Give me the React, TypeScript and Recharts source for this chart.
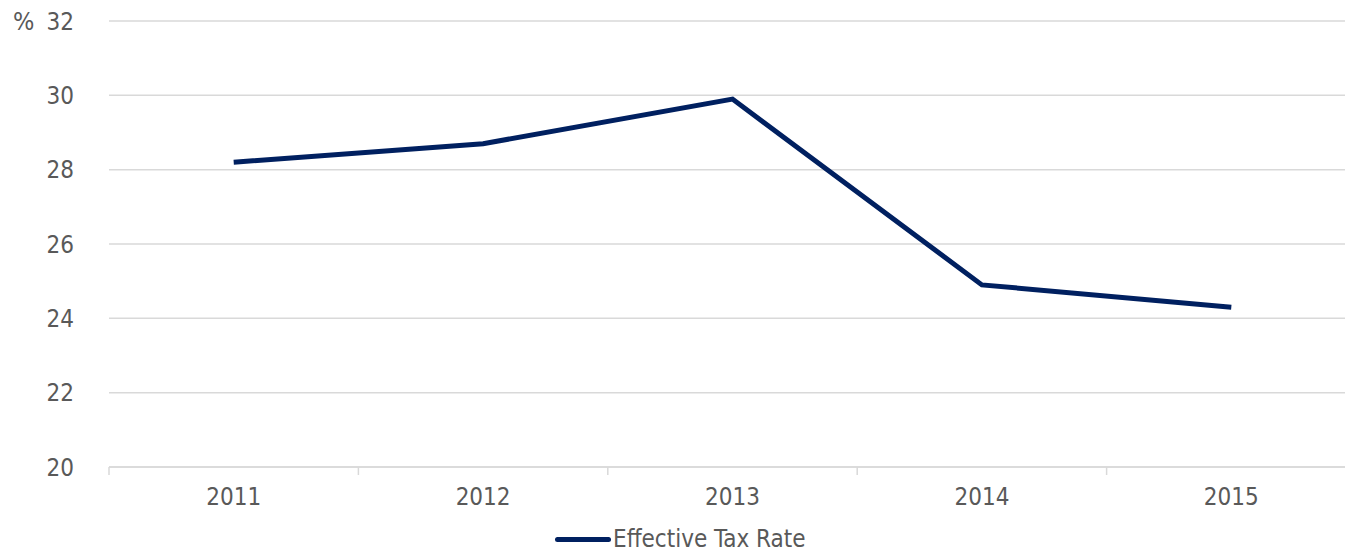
import React from "react";
import {
  LineChart,
  Line,
  XAxis,
  YAxis,
  CartesianGrid,
  Legend,
} from "recharts";

// years on the x axis
const years = ["2011", "2012", "2013", "2014", "2015"];
// effective tax rate, %
const taxRate = [28.2, 28.7, 29.9, 24.9, 24.3];
const yTicks = [20, 22, 24, 26, 28, 30, 32];

const data = years.map((year, i) => ({ year, rate: taxRate[i] }));

const FONT = "'DejaVu Sans Condensed', 'DejaVu Sans', sans-serif";
const TEXT = "#595959";
const GRID = "#d9d9d9";
const NAVY = "#002060";

// x tick: label in the middle of the band, tick marks on the band edges
const YearTick = (props: any) => {
  const { x, y, payload, index, width, visibleTicksCount } = props;
  const band = width / visibleTicksCount;
  const top = y - 8;
  return (
    <g>
      <line x1={x - band / 2} x2={x - band / 2} y1={top} y2={top + 8} stroke={GRID} strokeWidth={1.5} />
      {index === visibleTicksCount - 1 && (
        <line x1={x + band / 2} x2={x + band / 2} y1={top} y2={top + 8} stroke={GRID} strokeWidth={1.5} />
      )}
      <text x={x} y={y + 30} textAnchor="middle" fill={TEXT} fontSize={24} fontFamily={FONT}>
        {payload.value}
      </text>
    </g>
  );
};

const renderLegend = () => (
  <div style={{ display: "flex", alignItems: "center", fontFamily: FONT, fontSize: 24, color: TEXT }}>
    <span style={{ display: "inline-block", width: 56, height: 5, background: NAVY, borderRadius: 3, marginRight: 2 }} />
    <span>Effective Tax Rate</span>
  </div>
);

export default function App() {
  return (
    <div style={{ position: "absolute", left: 0, top: 0, width: 1345, height: 552, overflow: "hidden", background: "#fff" }}>
      <div style={{ position: "absolute", left: 13, top: 7, fontFamily: FONT, fontSize: 25, color: TEXT }}>%</div>
      <LineChart width={1356} height={552} data={data} margin={{ top: 21, right: 0, left: 0, bottom: 0 }}>
        <CartesianGrid vertical={false} stroke={GRID} strokeWidth={1.5} />
        <XAxis
          dataKey="year"
          scale="band"
          axisLine={{ stroke: GRID, strokeWidth: 1.5 }}
          tickLine={false}
          tick={<YearTick />}
          height={57}
          interval={0}
        />
        <YAxis
          domain={[20, 32]}
          ticks={yTicks}
          axisLine={false}
          tickLine={false}
          width={109}
          tickMargin={29}
          tick={{ fill: TEXT, fontSize: 24, fontFamily: FONT }}
        />
        <Legend
          content={renderLegend}
          wrapperStyle={{ left: 555, top: 525, width: "auto" }}
        />
        <Line
          type="linear"
          dataKey="rate"
          stroke={NAVY}
          strokeWidth={5}
          dot={false}
          activeDot={false}
          isAnimationActive={false}
        />
      </LineChart>
    </div>
  );
}
